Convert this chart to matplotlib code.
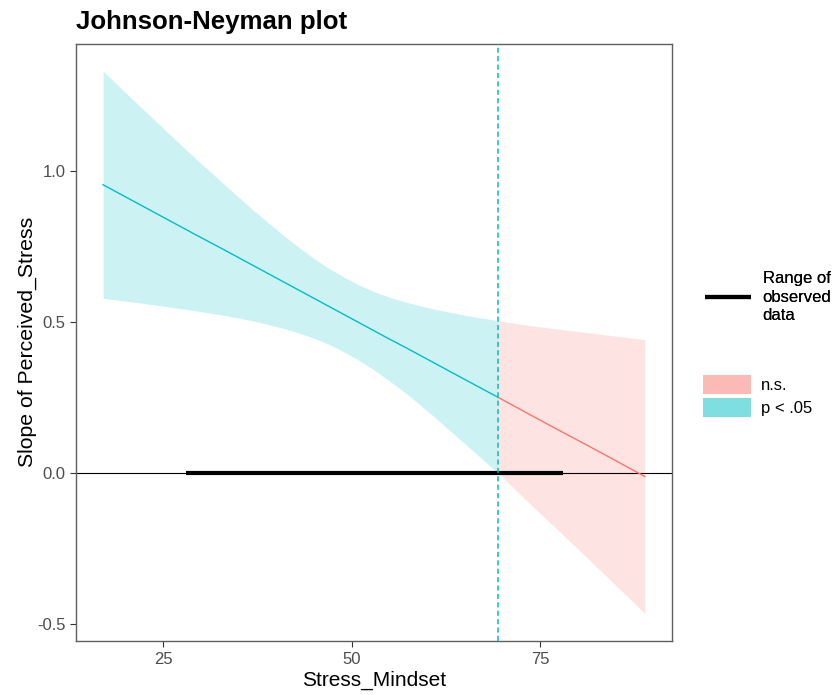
import matplotlib
matplotlib.use("Agg")
import matplotlib.pyplot as plt
from matplotlib.lines import Line2D
from matplotlib.patches import Patch
import numpy as np

plt.rcParams['font.family'] = ['Liberation Sans', 'DejaVu Sans']

# ---- data ----
x_vals = [17, 21, 25, 29, 33, 37, 41, 43, 45, 47, 49, 51, 53, 55, 57, 59, 61, 65, 69.4, 73, 77, 81, 85, 88.9]
slope = [0.956, 0.902, 0.848, 0.794, 0.741, 0.687, 0.633, 0.606, 0.579, 0.552, 0.525, 0.498, 0.471, 0.444,
         0.418, 0.391, 0.364, 0.310, 0.251, 0.202, 0.148, 0.095, 0.041, -0.012]
upper = [1.333, 1.237, 1.143, 1.049, 0.959, 0.870, 0.787, 0.748, 0.711, 0.678, 0.649, 0.623, 0.601, 0.583,
         0.568, 0.555, 0.543, 0.523, 0.505, 0.491, 0.478, 0.466, 0.454, 0.442]
lower = [0.579, 0.567, 0.553, 0.539, 0.523, 0.504, 0.479, 0.464, 0.447, 0.426, 0.401, 0.373, 0.341, 0.305,
         0.268, 0.227, 0.185, 0.097, 0.0, -0.087, -0.181, -0.276, -0.372, -0.466]
jn_point = 69.4
observed_range = [28.0, 78.0]
x_ticks = [25, 50, 75]
y_ticks = [-0.5, 0.0, 0.5, 1.0]
y_tick_labels = ['-0.5', '0.0', '0.5', '1.0']
legend_line_label = 'Range of\nobserved\ndata'
legend_fill_labels = ['n.s.', 'p < .05']

col_sig = '#00BFC4'
col_ns = '#F8766D'

x = np.array(x_vals)
s = np.array(slope)
up = np.array(upper)
lo = np.array(lower)
sig = x <= jn_point
ns = x >= jn_point

W, H = 838, 695
fig = plt.figure(figsize=(W / 100, H / 100), dpi=100)
ax = fig.add_axes([76 / W, 1 - 640.5 / H, (672 - 76) / W, (640.5 - 44) / H])

ax.fill_between(x[sig], lo[sig], up[sig], color=col_sig, alpha=0.2, lw=0)
ax.fill_between(x[ns], lo[ns], up[ns], color=col_ns, alpha=0.2, lw=0)
ax.axhline(0, color='black', lw=0.8, zorder=2)
ax.plot(observed_range, [0, 0], color='black', lw=3.0, solid_capstyle='butt', zorder=3)
ax.plot(x[sig], s[sig], color=col_sig, lw=1.0, zorder=4)
ax.plot(x[ns], s[ns], color=col_ns, lw=1.0, zorder=4)
ax.axvline(jn_point, color=col_sig, lw=1.1, dashes=[3.3, 2.2], zorder=5)

xr = x.max() - x.min()
ax.set_xlim(x.min() - 0.05 * xr, x.max() + 0.05 * xr)
yr = up.max() - lo.min()
ax.set_ylim(lo.min() - 0.05 * yr, up.max() + 0.05 * yr)

ax.set_xticks(x_ticks)
ax.set_yticks(y_ticks)
ax.set_yticklabels(y_tick_labels)
ax.tick_params(axis='both', colors='#333333', labelcolor='#4D4D4D', labelsize=12, length=4.5, width=0.8)
ax.tick_params(axis='x', pad=4)
ax.tick_params(axis='y', pad=3)
for sp in ax.spines.values():
    sp.set_color('#5f5f5f')
    sp.set_linewidth(1.0)

ax.set_xlabel('Stress_Mindset', fontsize=15, color='black')
ax.set_ylabel('Slope of Perceived_Stress', fontsize=15.3, color='black')
ax.xaxis.set_label_coords(0.5, -0.050)
ax.yaxis.set_label_coords(-0.066, 0.5)

fig.text(76 / W, 1 - 28.5 / H, 'Johnson-Neyman plot', fontsize=18.6, fontweight='bold', va='baseline', ha='left')

h1 = [Line2D([0], [0], color='black', lw=3.0, solid_capstyle='butt')]
leg1 = fig.legend(h1, [legend_line_label], loc='upper left', bbox_to_anchor=(705 / W, 1 - 271 / H),
                  frameon=False, fontsize=12, handlelength=2.75, handletextpad=0.7, borderpad=0,
                  borderaxespad=0)
for t in leg1.get_texts():
    t.set_linespacing(1.3)
fig.add_artist(leg1)
h2 = [Patch(facecolor=col_ns, alpha=0.5, edgecolor='none'),
      Patch(facecolor=col_sig, alpha=0.5, edgecolor='none')]
leg2 = fig.legend(h2, legend_fill_labels, loc='upper left', bbox_to_anchor=(703 / W, 1 - 375 / H),
                  frameon=False, fontsize=12, handlelength=2.9, handleheight=1.4, handletextpad=0.6,
                  labelspacing=0.2, borderpad=0, borderaxespad=0)

fig.savefig('out.png', dpi=100)
